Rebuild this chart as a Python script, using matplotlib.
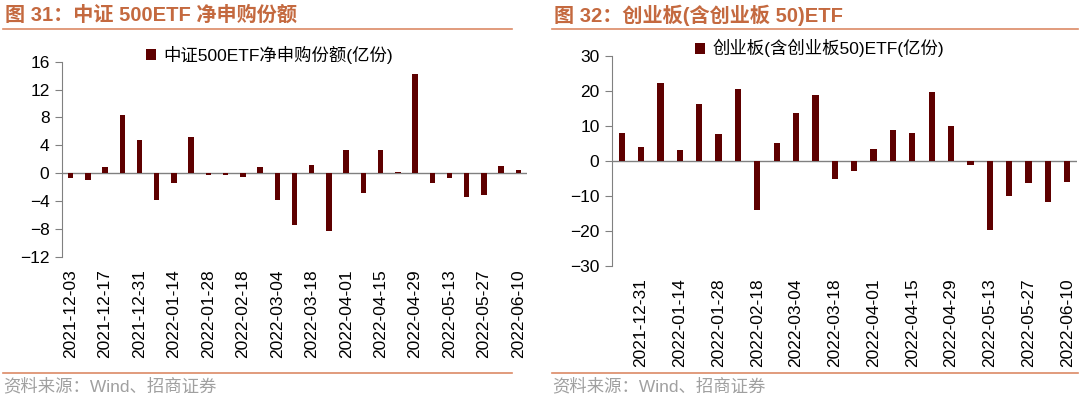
import matplotlib
matplotlib.use("Agg")
import matplotlib.pyplot as plt
from matplotlib.patches import Patch
from matplotlib.lines import Line2D

plt.rcParams['font.family'] = ['Liberation Sans', 'Noto Sans CJK SC']

# 图31: 中证500ETF 净申购份额 (亿份), weekly
dates_500 = ["2021-12-03", "2021-12-10", "2021-12-17", "2021-12-24", "2021-12-31",
             "2022-01-07", "2022-01-14", "2022-01-21", "2022-01-28", "2022-02-11",
             "2022-02-18", "2022-02-25", "2022-03-04", "2022-03-11", "2022-03-18",
             "2022-03-25", "2022-04-01", "2022-04-08", "2022-04-15", "2022-04-22",
             "2022-04-29", "2022-05-06", "2022-05-13", "2022-05-20", "2022-05-27",
             "2022-06-03", "2022-06-10"]
flow_500 = [-0.7, -1.0, 0.9, 8.4, 4.8, -3.9, -1.4, 5.2, -0.2, -0.2,
            -0.6, 0.9, -3.8, -7.5, 1.2, -8.3, 3.3, -2.9, 3.3, 0.1,
            14.3, -1.4, -0.7, -3.4, -3.2, 1.0, 0.5]

# 图32: 创业板(含创业板50)ETF (亿份)
dates_cyb = ["2021-12-24", "2021-12-31", "2022-01-07", "2022-01-14", "2022-01-21",
             "2022-01-28", "2022-02-11", "2022-02-18", "2022-02-25", "2022-03-04",
             "2022-03-11", "2022-03-18", "2022-03-25", "2022-04-01", "2022-04-08",
             "2022-04-15", "2022-04-22", "2022-04-29", "2022-05-06", "2022-05-13",
             "2022-05-20", "2022-05-27", "2022-06-03", "2022-06-10"]
flow_cyb = [7.8, 3.9, 22.2, 3.1, 16.2, 7.6, 20.5, -14.1, 5.2, 13.6,
            18.9, -5.1, -2.9, 3.3, 8.8, 8.0, 19.7, 9.8, -1.2, -19.9,
            -10.1, -6.4, -11.9, -6.1]

BAR_COLOR = "#5e0000"
TITLE_COLOR = "#c4693f"
LINE_COLOR = "#dc8a66"
AXIS_COLOR = "#808080"
W, H = 1080, 399

fig = plt.figure(figsize=(W / 100, H / 100), dpi=100)


def px(x0, y0, x1, y1):
    # pixel box (top-left origin) -> figure fraction rect
    return [x0 / W, 1 - y1 / H, (x1 - x0) / W, (y1 - y0) / H]


def draw_panel(rect, dates, vals, ylim, yticks, first_label, legend_text, legend_xy, xpad):
    ax = fig.add_axes(rect)
    n = len(vals)
    ax.bar(range(n), vals, width=0.32, color=BAR_COLOR, zorder=3)
    ax.axhline(0, color=AXIS_COLOR, lw=1.0, zorder=2)
    ax.set_xlim(-0.5, n - 0.5)
    ax.set_ylim(*ylim)
    ax.set_yticks(yticks)
    ax.tick_params(axis='y', direction='out', length=5, color=AXIS_COLOR,
                   labelsize=12.5, pad=4)
    ticks = list(range(first_label, n, 2))
    ax.set_xticks(ticks)
    ax.set_xticklabels([dates[i] for i in ticks], rotation=90, fontsize=12.5)
    ax.tick_params(axis='x', length=0, pad=xpad)
    for s in ['top', 'right', 'bottom']:
        ax.spines[s].set_visible(False)
    ax.spines['left'].set_color(AXIS_COLOR)
    handle = Patch(facecolor=BAR_COLOR, edgecolor='none')
    fig.legend([handle], [legend_text], loc='upper left',
               bbox_to_anchor=(legend_xy[0] / W, 1 - legend_xy[1] / H),
               frameon=False, handlelength=0.6, handleheight=0.6,
               handletextpad=0.4, borderaxespad=0, borderpad=0,
               prop={'size': 12.5})
    return ax


draw_panel(px(62, 61.7, 527, 256.7), dates_500, flow_500, (-12, 16),
           range(-12, 17, 4), 0, "中证500ETF净申购份额(亿份)", (146, 46), 9)
draw_panel(px(612, 55.7, 1077, 265.7), dates_cyb, flow_cyb, (-30, 30),
           range(-30, 31, 10), 1, "创业板(含创业板50)ETF(亿份)", (695, 39), 9)

# titles, rules and source notes
for x0, x1, title in [(3, 512, "图 31：中证 500ETF 净申购份额"),
                      (552, 1078, "图 32：创业板(含创业板 50)ETF")]:
    fig.text((x0 + 2) / W, 1 - 15 / H, title, color=TITLE_COLOR, fontsize=14.5,
             fontweight='bold', va='center', ha='left')
    fig.add_artist(Line2D([x0 / W, x1 / W], [1 - 29 / H] * 2, color=LINE_COLOR, lw=1.2))
    fig.add_artist(Line2D([x0 / W, x1 / W], [1 - 373 / H] * 2, color=LINE_COLOR, lw=1.2))
    fig.text(x0 / W, 1 - 386 / H, "资料来源：Wind、招商证券", color="#a0a0a0",
             fontsize=12.5, va='center', ha='left')

fig.savefig("out.png", dpi=100)
